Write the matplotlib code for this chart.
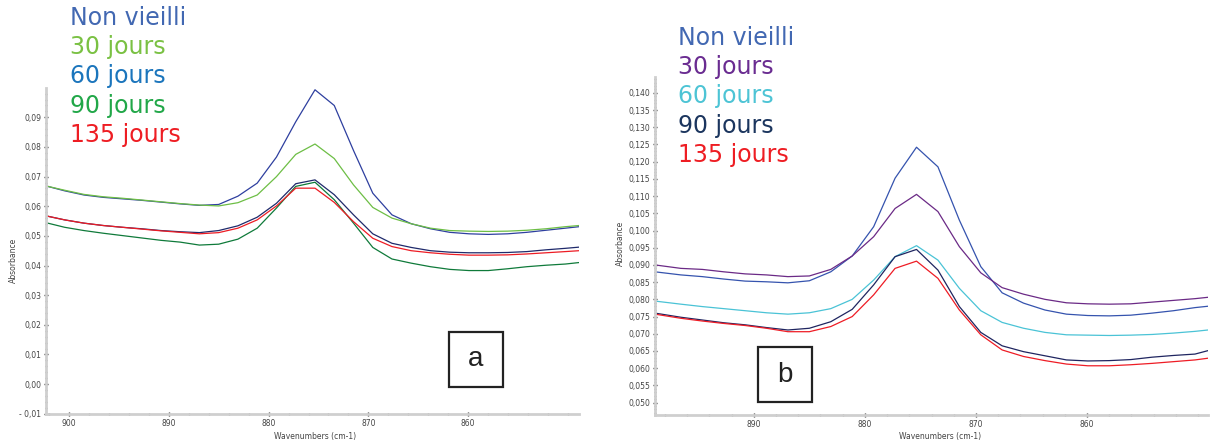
import matplotlib
matplotlib.use("Agg")
import matplotlib.pyplot as plt
from matplotlib.ticker import MultipleLocator, FuncFormatter, FixedLocator
from matplotlib.patches import Rectangle

# ---------------- data ----------------
labels = ["Non vieilli", "30 jours", "60 jours", "90 jours", "135 jours"]

wn_a = [902.36, 900.43, 898.50, 896.57, 894.64, 892.71, 890.78, 888.86, 886.93, 885.00,
        883.07, 881.14, 879.21, 877.28, 875.35, 873.42, 871.49, 869.56, 867.64, 865.71,
        863.78, 861.85, 859.92, 857.99, 856.06, 854.13, 852.20, 850.27, 848.90]

a_non = [0.0669, 0.0652, 0.0638, 0.0630, 0.0625, 0.0620, 0.0614, 0.0608, 0.0603, 0.0606,
         0.0634, 0.0678, 0.0766, 0.0885, 0.0993, 0.0940, 0.0788, 0.0644, 0.0571, 0.0541,
         0.0524, 0.0512, 0.0507, 0.0505, 0.0507, 0.0512, 0.0519, 0.0526, 0.0531]
a_30 = [0.0669, 0.0654, 0.0640, 0.0632, 0.0627, 0.0621, 0.0615, 0.0609, 0.0604, 0.0601,
        0.0612, 0.0638, 0.0700, 0.0775, 0.0810, 0.0761, 0.0672, 0.0596, 0.0560, 0.0541,
        0.0526, 0.0518, 0.0516, 0.0515, 0.0516, 0.0519, 0.0524, 0.0531, 0.0535]
a_60 = [0.0568, 0.0554, 0.0543, 0.0535, 0.0529, 0.0524, 0.0518, 0.0514, 0.0511, 0.0518,
        0.0534, 0.0563, 0.0610, 0.0676, 0.0689, 0.0639, 0.0571, 0.0507, 0.0475, 0.0461,
        0.0450, 0.0445, 0.0443, 0.0443, 0.0444, 0.0447, 0.0453, 0.0458, 0.0462]
a_90 = [0.0545, 0.0529, 0.0518, 0.0509, 0.0501, 0.0493, 0.0485, 0.0479, 0.0469, 0.0472,
        0.0489, 0.0526, 0.0594, 0.0667, 0.0681, 0.0622, 0.0543, 0.0461, 0.0422, 0.0408,
        0.0396, 0.0387, 0.0383, 0.0383, 0.0389, 0.0396, 0.0401, 0.0405, 0.0410]
a_135 = [0.0568, 0.0554, 0.0543, 0.0535, 0.0529, 0.0523, 0.0517, 0.0512, 0.0507, 0.0511,
         0.0526, 0.0554, 0.0601, 0.0661, 0.0661, 0.0613, 0.0548, 0.0492, 0.0464, 0.0450,
         0.0443, 0.0438, 0.0435, 0.0435, 0.0436, 0.0439, 0.0443, 0.0447, 0.0450]

wn_b = [898.90, 896.57, 894.64, 892.71, 890.78, 888.86, 886.93, 885.00, 883.07, 881.14,
        879.21, 877.28, 875.35, 873.42, 871.49, 869.56, 867.64, 865.71, 863.78, 861.85,
        859.92, 857.99, 856.06, 854.13, 852.20, 850.27, 849.10]

b_non = [0.0880, 0.0871, 0.0866, 0.0859, 0.0853, 0.0851, 0.0848, 0.0854, 0.0880, 0.0926,
         0.1011, 0.1152, 0.1242, 0.1185, 0.1030, 0.0895, 0.0819, 0.0789, 0.0769, 0.0757,
         0.0753, 0.0752, 0.0754, 0.0760, 0.0767, 0.0776, 0.0780]
b_30 = [0.0900, 0.0890, 0.0887, 0.0880, 0.0874, 0.0871, 0.0866, 0.0868, 0.0887, 0.0926,
        0.0982, 0.1064, 0.1105, 0.1055, 0.0953, 0.0877, 0.0834, 0.0815, 0.0800, 0.0790,
        0.0787, 0.0786, 0.0787, 0.0792, 0.0797, 0.0802, 0.0806]
b_60 = [0.0795, 0.0786, 0.0779, 0.0773, 0.0767, 0.0761, 0.0757, 0.0761, 0.0773, 0.0800,
        0.0856, 0.0924, 0.0956, 0.0914, 0.0832, 0.0767, 0.0733, 0.0716, 0.0704, 0.0697,
        0.0696, 0.0695, 0.0696, 0.0698, 0.0702, 0.0707, 0.0711]
b_90 = [0.0760, 0.0748, 0.0740, 0.0732, 0.0726, 0.0718, 0.0711, 0.0716, 0.0735, 0.0771,
        0.0842, 0.0924, 0.0945, 0.0885, 0.0779, 0.0704, 0.0665, 0.0648, 0.0636, 0.0624,
        0.0621, 0.0622, 0.0625, 0.0632, 0.0637, 0.0641, 0.0651]
b_135 = [0.0757, 0.0745, 0.0737, 0.0730, 0.0724, 0.0716, 0.0706, 0.0706, 0.0721, 0.0750,
         0.0813, 0.0890, 0.0911, 0.0861, 0.0769, 0.0697, 0.0653, 0.0634, 0.0622, 0.0612,
         0.0607, 0.0607, 0.0610, 0.0614, 0.0619, 0.0624, 0.0629]

a_xticks = [900, 890, 880, 870, 860]
b_xticks = [890, 880, 870, 860]

a_series = [a_non, a_30, a_60, a_90, a_135]
b_series = [b_non, b_30, b_60, b_90, b_135]

a_line_colors = ["#2E3F9F", "#6DBE45", "#1F2A6B", "#0F7A3A", "#ED1C24"]
b_line_colors = ["#3553AE", "#6B2A86", "#4AC3D6", "#1F2560", "#EE1C25"]
a_text_colors = ["#4268B2", "#7AC143", "#1B75BC", "#21A748", "#EE1D23"]
b_text_colors = ["#4268B2", "#6A2C91", "#4DC4D5", "#1B355E", "#EE1D23"]

W, H = 1210, 443
fig = plt.figure(figsize=(W / 100, H / 100), dpi=100)


def px_rect(l, t, r, b):
    return [l / W, 1 - b / H, (r - l) / W, (b - t) / H]


def style_axes(ax, ydec, yminor, xticks):
    for s in ["top", "right"]:
        ax.spines[s].set_visible(False)
    for s in ["left", "bottom"]:
        ax.spines[s].set_color("#cfcfcf")
        ax.spines[s].set_linewidth(2.0)
    ax.xaxis.set_major_locator(FixedLocator(xticks))
    ax.xaxis.set_minor_locator(MultipleLocator(2))
    ax.tick_params(axis="both", which="both", direction="inout", color="#333333",
                   width=1.0, labelsize=5.5, labelcolor="#444444", pad=2)
    ax.tick_params(axis="both", which="major", length=3)
    ax.tick_params(axis="both", which="minor", length=2)
    ax.yaxis.set_minor_locator(MultipleLocator(yminor))

    def yfmt(v, pos):
        s = f"{v:.{ydec}f}".replace(".", ",")
        if s.startswith("-"):
            s = "- " + s[1:]
        return s
    ax.yaxis.set_major_formatter(FuncFormatter(yfmt))
    ax.xaxis.set_major_formatter(FuncFormatter(lambda v, p: f"{v:.0f}"))


# Panel a
ax1 = fig.add_axes(px_rect(46, 88, 579, 414))
for ys, c in zip(a_series, a_line_colors):
    ax1.plot(wn_a, ys, color=c, lw=0.9)
ax1.set_xlim(902.3, 848.9)
ax1.set_ylim(-0.0101, 0.0999)
ax1.yaxis.set_major_locator(MultipleLocator(0.01))
style_axes(ax1, 2, 0.002, a_xticks)

# Panel b
ax2 = fig.add_axes(px_rect(655, 77, 1208, 415))
for ys, c in zip(b_series, b_line_colors):
    ax2.plot(wn_b, ys, color=c, lw=0.9)
ax2.set_xlim(898.9, 849.1)
ax2.set_ylim(0.0464, 0.1446)
ax2.yaxis.set_major_locator(MultipleLocator(0.005))
style_axes(ax2, 3, 0.001, b_xticks)

# axis titles placed in figure pixels
for x, y in [(13, 260), (620, 243)]:
    fig.text(x / W, 1 - y / H, "Absorbance", rotation=90, fontsize=5.5,
             color="#444444", ha="center", va="center")
for x, y in [(315, 436), (940, 437)]:
    fig.text(x / W, 1 - y / H, "Wavenumbers (cm-1)", fontsize=5.5,
             color="#444444", ha="center", va="center")

# legend texts
for i, (lab, c) in enumerate(zip(labels, a_text_colors)):
    fig.text(70 / W, 1 - (18 + i * 29.2) / H, lab, color=c, fontsize=17,
             va="center", ha="left", family="DejaVu Sans")
for i, (lab, c) in enumerate(zip(labels, b_text_colors)):
    fig.text(678 / W, 1 - (38 + i * 29.2) / H, lab, color=c, fontsize=17,
             va="center", ha="left", family="DejaVu Sans")

# panel boxes
for (l, t, r, b), letter in [((449, 332, 503, 387), "a"), ((758, 347, 812, 402), "b")]:
    fig.patches.append(Rectangle((l / W, 1 - b / H), (r - l) / W, (b - t) / H,
                                 transform=fig.transFigure, fill=False,
                                 edgecolor="#222222", lw=1.6))
    fig.text((l + r) / 2 / W, 1 - (t + b) / 2 / H, letter, fontsize=20,
             ha="center", va="center", color="#222222", family="Liberation Sans")

fig.savefig("out.png", dpi=100)
